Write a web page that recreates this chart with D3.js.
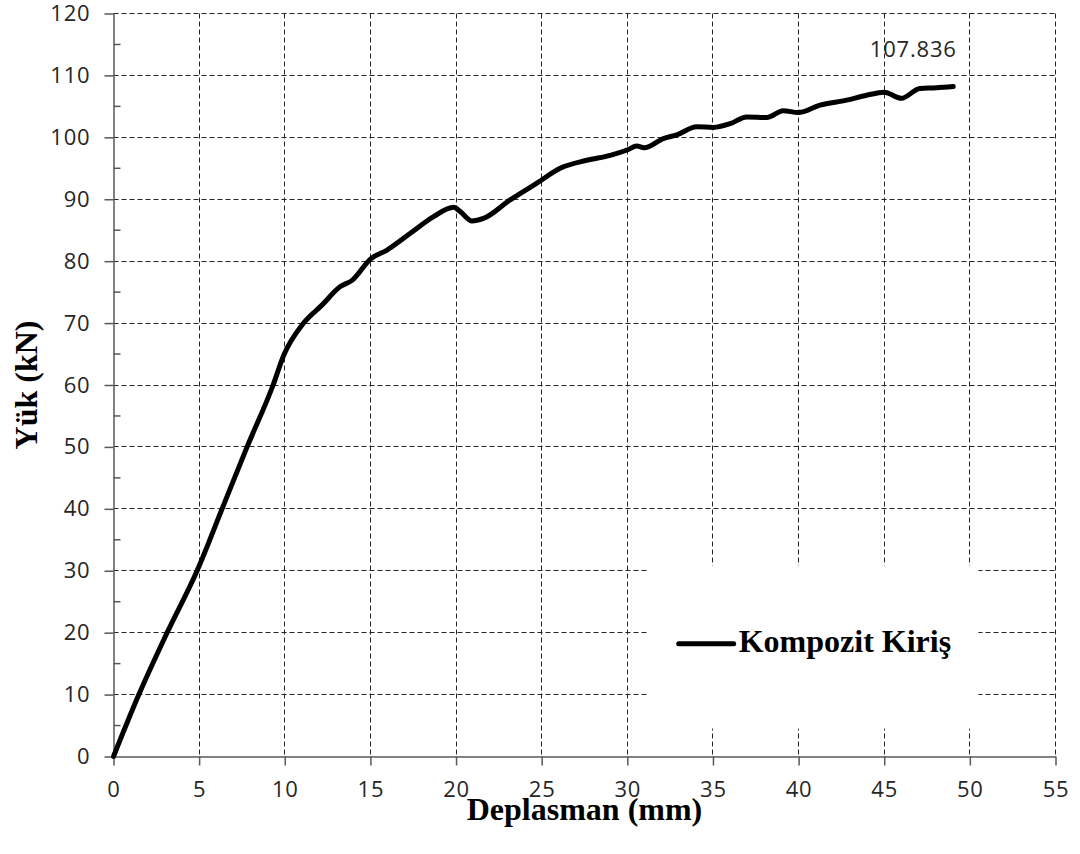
<!DOCTYPE html>
<html>
<head>
<meta charset="utf-8">
<script src="https://cdn.jsdelivr.net/npm/d3@7"></script>
<style>
    body { margin: 0; background: #ffffff; }
    .tick-label { font-family: "Open Sans", sans-serif; font-size: 22px; letter-spacing: 0.8px; fill: #262626; }
    .axis-title { font-family: "Liberation Serif", "Times New Roman", serif; font-weight: bold; font-size: 32px; fill: #000000; }
</style>
</head>
<body>
<div id="chart"></div>
<script>
// Deplasman (mm) / Yük (kN) readings
const displacement = [0, 1.48, 3.13, 4.88, 6.34, 7.8, 9.32, 9.94, 11.1, 12.17, 13.24, 13.93, 15.03, 15.97,
    17.33, 18.69, 19.86, 20.25, 20.93, 21.6, 23.16, 24.72, 26.08, 27.64, 29.0, 30.03, 30.55, 30.98, 32.1,
    32.89, 34.05, 35.03, 36.0, 36.97, 38.14, 39.1, 39.98, 41.25, 42.8, 43.97, 45.0, 46.0, 47.08, 48.05, 49.03];
const load = [0, 10, 20, 30, 40, 50, 60, 64.8, 70, 72.9, 75.9, 76.9, 80.4, 81.8,
    84.5, 87.2, 88.7, 88.0, 86.5, 86.9, 89.9, 92.6, 95.0, 96.3, 97.1, 98.0, 98.6, 98.3, 99.8,
    100.4, 101.7, 101.6, 102.2, 103.3, 103.2, 104.3, 104.0, 105.2, 106.0, 106.8, 107.3, 106.3, 107.9, 108.0, 108.2];

const xTicks = [0, 5, 10, 15, 20, 25, 30, 35, 40, 45, 50, 55];
const yTicks = [0, 10, 20, 30, 40, 50, 60, 70, 80, 90, 100, 110, 120];
const yMinorTicks = [5, 15, 25, 35, 45, 55, 65, 75, 85, 95, 105, 115];

const seriesName = "Kompozit Kiriş";
const peakLabel = "107.836";
const xTitle = "Deplasman (mm)";
const yTitle = "Yük (kN)";

const margin = {top: 13.5, right: 24.5, bottom: 97.5, left: 113.5};
const width = 1080 - margin.left - margin.right;
const height = 854 - margin.top - margin.bottom;

const svg = d3.select("#chart").append("svg")
    .attr("width", 1080)
    .attr("height", 854);

const g = svg.append("g")
    .attr("transform", `translate(${margin.left}, ${margin.top})`);

const x = d3.scaleLinear().domain([0, 55]).range([0, width]);
const y = d3.scaleLinear().domain([0, 120]).range([height, 0]);

// Grid lines (dashed)
g.append("g")
    .selectAll("line")
    .data(yTicks.filter(d => d > 0))
    .enter().append("line")
    .attr("x1", 0)
    .attr("x2", width)
    .attr("y1", d => Math.round(y(d)))
    .attr("y2", d => Math.round(y(d)))
    .attr("stroke", "#262626")
    .attr("stroke-width", 1)
    .attr("stroke-dasharray", "5,3");

g.append("g")
    .selectAll("line")
    .data(xTicks.filter(d => d > 0))
    .enter().append("line")
    .attr("x1", d => Math.round(x(d)))
    .attr("x2", d => Math.round(x(d)))
    .attr("y1", 0)
    .attr("y2", height)
    .attr("stroke", "#262626")
    .attr("stroke-width", 1)
    .attr("stroke-dasharray", "5,3");

// Legend box hides the grid behind it
g.append("rect")
    .attr("x", x(31.15))
    .attr("y", y(30.8))
    .attr("width", x(19.35))
    .attr("height", height - y(26.3))
    .attr("fill", "#ffffff");

// X axis
const xAxis = d3.axisBottom(x)
    .tickValues(xTicks)
    .tickSize(9)
    .tickPadding(16)
    .tickSizeOuter(0);

const xg = g.append("g")
    .attr("transform", `translate(0, ${height})`)
    .call(xAxis);
xg.select(".domain").attr("stroke", "#595959").attr("stroke-width", 1.5);
xg.selectAll(".tick line").attr("stroke", "#595959").attr("stroke-width", 1.5);
xg.selectAll(".tick text")
    .attr("class", "tick-label")
    .attr("fill", null)
    .style("font-size", "22px");

// Y axis
const yAxis = d3.axisLeft(y)
    .tickValues(yTicks)
    .tickSize(9)
    .tickPadding(14)
    .tickSizeOuter(0);

const yg = g.append("g")
    .call(yAxis);
yg.select(".domain").attr("stroke", "#595959").attr("stroke-width", 1.5);
yg.selectAll(".tick line").attr("stroke", "#595959").attr("stroke-width", 1.5);
yg.selectAll(".tick text")
    .attr("class", "tick-label")
    .attr("fill", null)
    .style("font-size", "22px");

// Y minor ticks (inside)
g.append("g")
    .selectAll("line")
    .data(yMinorTicks)
    .enter().append("line")
    .attr("x1", 0)
    .attr("x2", 7)
    .attr("y1", d => y(d))
    .attr("y2", d => y(d))
    .attr("stroke", "#595959")
    .attr("stroke-width", 1.5);

// Curve
const line = d3.line()
    .x((d, i) => x(displacement[i]))
    .y(d => y(d))
    .curve(d3.curveMonotoneX);

g.append("path")
    .datum(load)
    .attr("d", line)
    .attr("fill", "none")
    .attr("stroke", "#000000")
    .attr("stroke-width", 5)
    .attr("stroke-linecap", "round")
    .attr("stroke-linejoin", "round");

// Peak label
g.append("text")
    .attr("class", "tick-label")
    .attr("x", x(displacement[displacement.length - 1]) - 40)
    .attr("y", y(load[load.length - 1]) - 30)
    .attr("text-anchor", "middle")
    .text(peakLabel);

// Legend
const legend = g.append("g")
    .attr("transform", `translate(${x(33.0)}, ${y(18.2)})`);

legend.append("line")
    .attr("x1", 0)
    .attr("x2", 55)
    .attr("y1", 0)
    .attr("y2", 0)
    .attr("stroke", "#000000")
    .attr("stroke-width", 5)
    .attr("stroke-linecap", "round");

legend.append("text")
    .attr("class", "axis-title")
    .attr("x", 60)
    .attr("y", 8)
    .text(seriesName);

// Axis titles
svg.append("text")
    .attr("class", "axis-title")
    .attr("x", margin.left + width / 2)
    .attr("y", 820)
    .attr("text-anchor", "middle")
    .text(xTitle);

svg.append("text")
    .attr("class", "axis-title")
    .attr("transform", `translate(37, ${margin.top + height / 2}) rotate(-90)`)
    .attr("text-anchor", "middle")
    .text(yTitle);
</script>
</body>
</html>
